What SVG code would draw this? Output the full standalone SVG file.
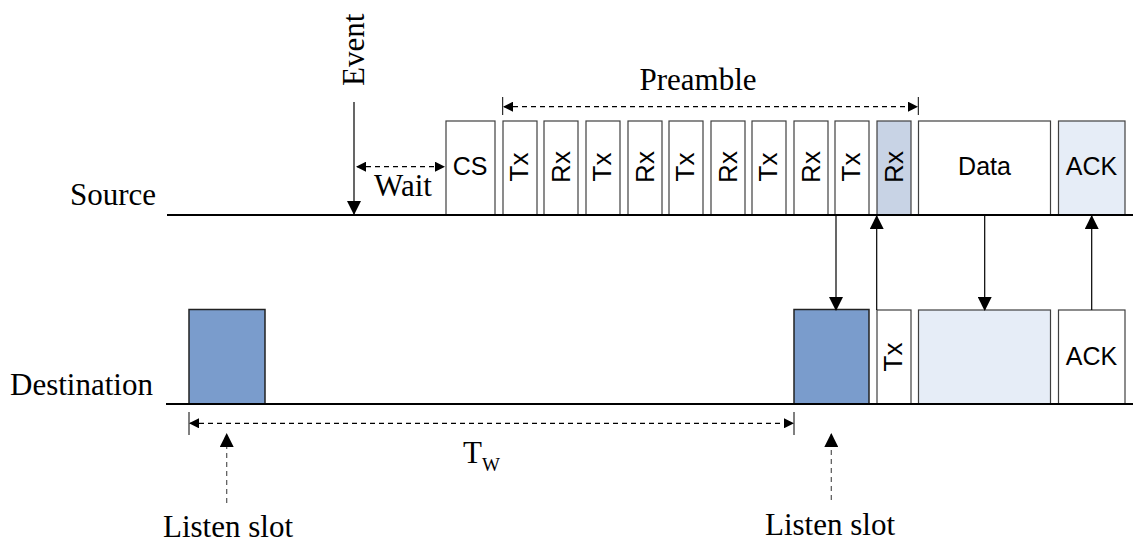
<svg xmlns="http://www.w3.org/2000/svg" width="1133" height="543" viewBox="0 0 1133 543">
<style>
.box{fill:#fff;stroke:#404040;stroke-width:1.2}
.sh{fill:#C8D3E5;stroke:#404040;stroke-width:1.2}
.lt{fill:#E6EDF7;stroke:#404040;stroke-width:1.2}
.ls{fill:#7A9CCC;stroke:#222;stroke-width:1.5}
.base{stroke:#000;stroke-width:2}
.ar{stroke:#000;stroke-width:1.2;fill:none}
.da{stroke:#000;stroke-width:1.2;fill:none;stroke-dasharray:5,4}
.dg{stroke:#555;stroke-width:1.2;fill:none;stroke-dasharray:5,4}
.tk{stroke:#000;stroke-width:1}
.s{font-family:"Liberation Sans",Arial,sans-serif;font-size:25px;fill:#000;text-anchor:middle}
.v{font-family:"Liberation Sans",Arial,sans-serif;font-size:26px;fill:#000;text-anchor:middle}
.r{font-family:"Liberation Serif","Times New Roman",serif;font-size:31px;fill:#000}
</style>
<defs>
<marker id="ah" markerWidth="10" markerHeight="10" refX="9" refY="5" orient="auto" markerUnits="userSpaceOnUse">
<path d="M0,0 L10,5 L0,10 z" fill="#000"/>
</marker>
<marker id="ahs" markerWidth="10" markerHeight="10" refX="1" refY="5" orient="auto" markerUnits="userSpaceOnUse">
<path d="M10,0 L0,5 L10,10 z" fill="#000"/>
</marker>
<marker id="ah2" markerWidth="14" markerHeight="14" refX="13" refY="7" orient="auto" markerUnits="userSpaceOnUse">
<path d="M0,0 L14,7 L0,14 z" fill="#000"/>
</marker>
</defs>

<g id="labels">
<text class="r" x="70" y="205">Source</text>
<text class="r" x="10" y="395">Destination</text>
<text class="r" font-size="33" transform="translate(364,86) rotate(-90)">Event</text>
<text class="r" x="403" y="196" text-anchor="middle">Wait</text>
<text class="r" x="698" y="90" text-anchor="middle">Preamble</text>
<text class="r" x="463" y="463" font-size="30">T<tspan font-size="19" dy="8">W</tspan></text>
<text class="r" x="228" y="537" text-anchor="middle">Listen slot</text>
<text class="r" x="830" y="535" text-anchor="middle">Listen slot</text>
</g>

<g id="source-nodes">
<g id="cs"><rect class="box" x="446" y="121" width="49" height="94"/><text class="s" x="470" y="175">CS</text></g>
<g id="p1"><rect class="box" x="503" y="121" width="34" height="94"/><text class="v" transform="translate(528,167) rotate(-90)">Tx</text></g>
<g id="p2"><rect class="box" x="544" y="121" width="34" height="94"/><text class="v" transform="translate(570,167) rotate(-90)">Rx</text></g>
<g id="p3"><rect class="box" x="586" y="121" width="34" height="94"/><text class="v" transform="translate(611,167) rotate(-90)">Tx</text></g>
<g id="p4"><rect class="box" x="628" y="121" width="34" height="94"/><text class="v" transform="translate(654,167) rotate(-90)">Rx</text></g>
<g id="p5"><rect class="box" x="669" y="121" width="34" height="94"/><text class="v" transform="translate(694,167) rotate(-90)">Tx</text></g>
<g id="p6"><rect class="box" x="711" y="121" width="34" height="94"/><text class="v" transform="translate(737,167) rotate(-90)">Rx</text></g>
<g id="p7"><rect class="box" x="752" y="121" width="34" height="94"/><text class="v" transform="translate(777,167) rotate(-90)">Tx</text></g>
<g id="p8"><rect class="box" x="794" y="121" width="34" height="94"/><text class="v" transform="translate(820,167) rotate(-90)">Rx</text></g>
<g id="p9"><rect class="box" x="835" y="121" width="34" height="94"/><text class="v" transform="translate(860,167) rotate(-90)">Tx</text></g>
<g id="p10"><rect class="sh" x="877" y="121" width="34" height="94"/><text class="v" transform="translate(903,167) rotate(-90)">Rx</text></g>
<g id="data-src"><rect class="box" x="918.5" y="121" width="132" height="94"/><text class="s" x="984.5" y="175">Data</text></g>
<g id="ack-src"><rect class="lt" x="1058.5" y="121" width="66.5" height="94"/><text class="s" x="1091.5" y="175" font-size="27">ACK</text></g>
</g>

<g id="dest-nodes">
<g id="ls1"><rect class="ls" x="189" y="309.5" width="76" height="94.5"/></g>
<g id="ls2"><rect class="ls" x="794" y="309.5" width="75" height="94.5"/></g>
<g id="tx-dst"><rect class="box" x="877" y="310" width="34" height="94"/><text class="v" transform="translate(902,357) rotate(-90)">Tx</text></g>
<g id="data-dst"><rect class="lt" x="918.5" y="310" width="132" height="94"/></g>
<g id="ack-dst"><rect class="box" x="1058.5" y="310" width="66.5" height="94"/><text class="s" x="1091.5" y="365" font-size="27">ACK</text></g>
</g>

<g id="connectors">
<line class="base" x1="167" y1="215" x2="1133" y2="215"/>
<line class="base" x1="166" y1="404" x2="1133" y2="404"/>
<line class="ar" x1="354" y1="102" x2="354" y2="214" marker-end="url(#ah2)"/>
<line class="da" x1="357" y1="166.7" x2="444" y2="166.7" marker-start="url(#ahs)" marker-end="url(#ah)"/>
<line class="tk" x1="502.7" y1="97" x2="502.7" y2="115"/>
<line class="tk" x1="918.3" y1="97" x2="918.3" y2="115"/>
<line class="da" x1="504" y1="106.7" x2="917" y2="106.7" marker-start="url(#ahs)" marker-end="url(#ah)"/>
<line class="ar" x1="836" y1="215" x2="836" y2="310" marker-end="url(#ah2)"/>
<line class="ar" x1="876.7" y1="310" x2="876.7" y2="216" marker-end="url(#ah2)"/>
<line class="ar" x1="984.7" y1="215" x2="984.7" y2="310" marker-end="url(#ah2)"/>
<line class="ar" x1="1091.7" y1="310" x2="1091.7" y2="216" marker-end="url(#ah2)"/>
<line class="tk" x1="189" y1="412" x2="189" y2="435"/>
<line class="tk" x1="794" y1="412" x2="794" y2="435"/>
<line class="da" x1="190" y1="423.3" x2="793" y2="423.3" marker-start="url(#ahs)" marker-end="url(#ah)"/>
<line class="dg" x1="226.7" y1="503" x2="226.7" y2="434" marker-end="url(#ah2)"/>
<line class="dg" x1="831.3" y1="500" x2="831.3" y2="434" marker-end="url(#ah2)"/>
</g>
</svg>
